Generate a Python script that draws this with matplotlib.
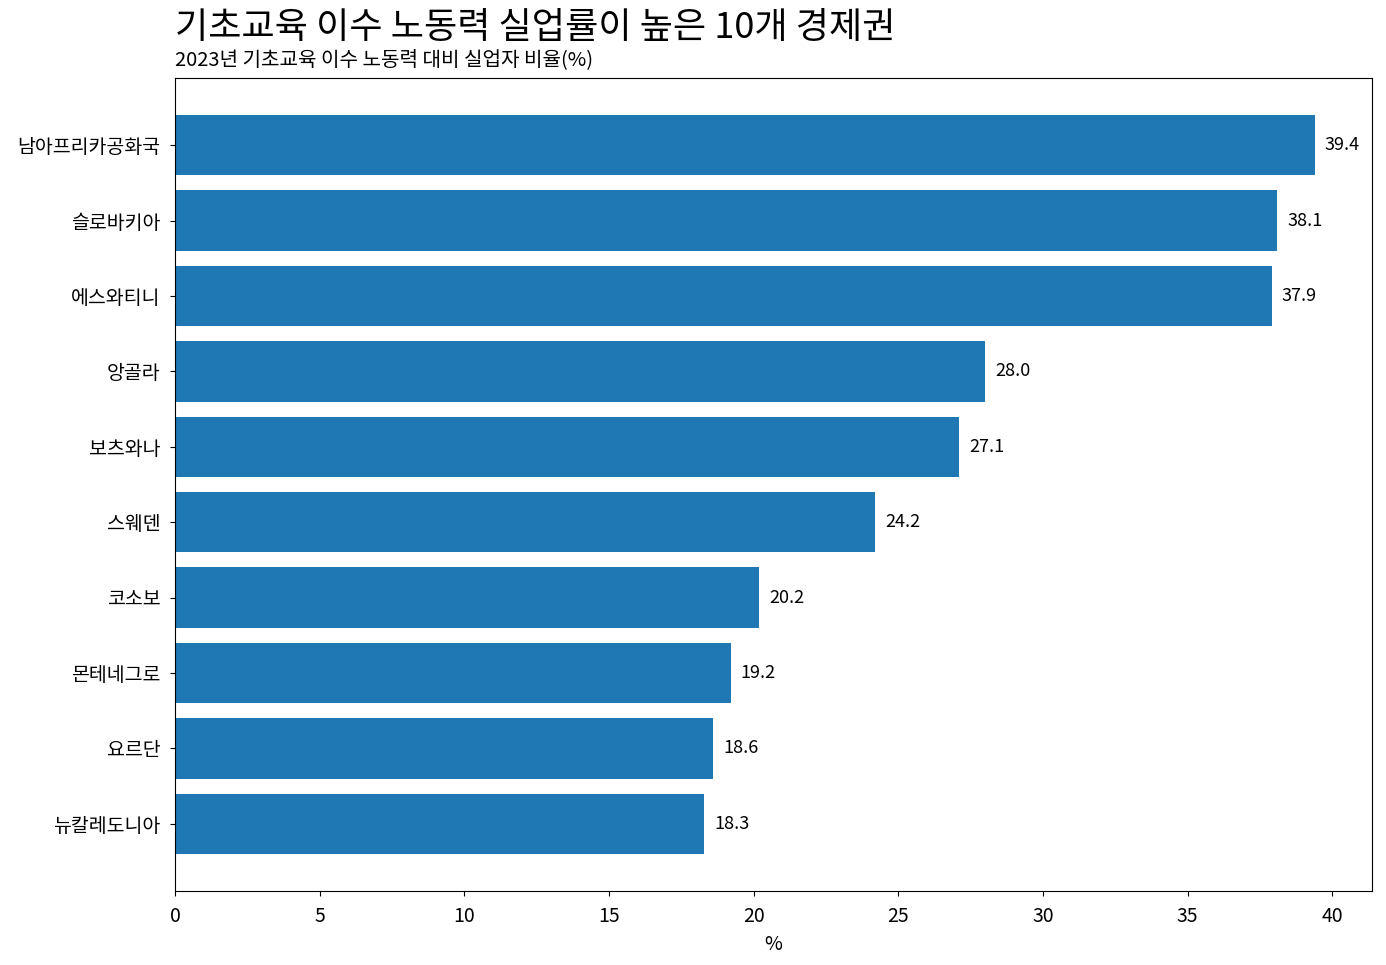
import matplotlib
matplotlib.use('Agg')
import matplotlib.pyplot as plt

plt.rcParams['font.family'] = ['Noto Sans CJK KR', 'DejaVu Sans']
plt.rcParams['font.weight'] = 'light'

countries = ['남아프리카공화국', '슬로바키아', '에스와티니', '앙골라', '보츠와나',
             '스웨덴', '코소보', '몬테네그로', '요르단', '뉴칼레도니아']
rates = [39.4, 38.1, 37.9, 28.0, 27.1, 24.2, 20.2, 19.2, 18.6, 18.3]
ticks = [0, 5, 10, 15, 20, 25, 30, 35, 40]


def main():
    fig = plt.figure(figsize=(13.86, 9.65), dpi=100)
    ax = fig.add_axes([175 / 1386, 1 - 891 / 965, (1372 - 175) / 1386, (891 - 78) / 965])

    bars = ax.barh(countries[::-1], rates[::-1], color='#1f77b4', height=0.8)
    ax.bar_label(bars, labels=[f'{v:.1f}' for v in rates[::-1]], padding=7, fontsize=13)

    ax.set_xticks(ticks)
    ax.tick_params(axis='y', labelsize=14, pad=7)
    ax.tick_params(axis='x', labelsize=14, pad=7)
    ax.set_xlabel('%', fontsize=14, labelpad=5)

    fig.text(175 / 1386, 1 - 28 / 965, '기초교육 이수 노동력 실업률이 높은 10개 경제권',
             fontsize=26, va='center', ha='left')
    fig.text(175 / 1386, 1 - 60 / 965, '2023년 기초교육 이수 노동력 대비 실업자 비율(%)',
             fontsize=14.5, va='center', ha='left')

    fig.savefig('out.png', dpi=100)


if __name__ == '__main__':
    main()
